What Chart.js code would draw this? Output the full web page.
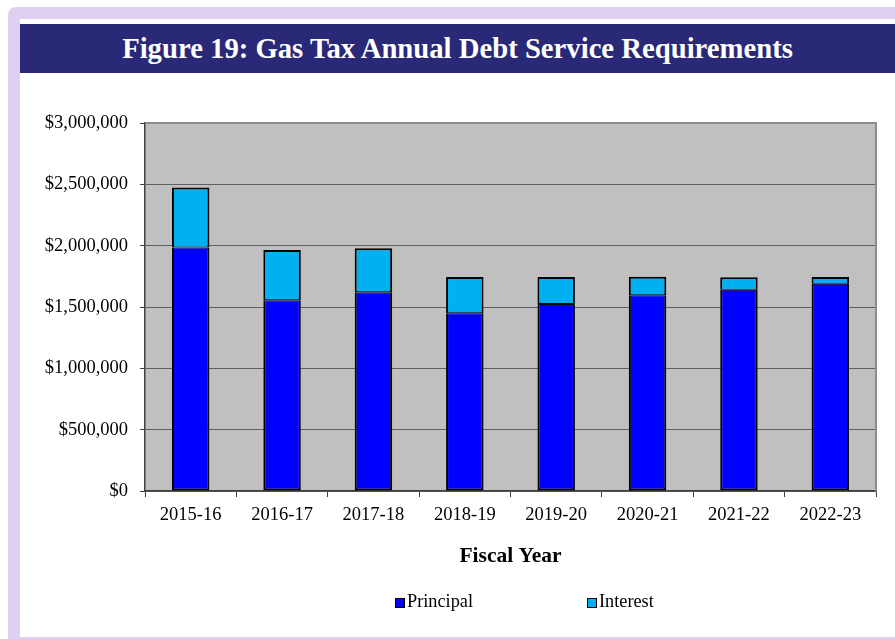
<!DOCTYPE html>
<html>
<head>
<meta charset="utf-8">
<script src="https://cdn.jsdelivr.net/npm/chart.js@4/dist/chart.umd.min.js"></script>
<style>
  html, body { margin: 0; padding: 0; background: #fff; }
  body { width: 895px; height: 639px; position: relative; overflow: hidden; font-family: 'Liberation Serif', 'Times New Roman', serif; }
  .frame { position: absolute; left: 8px; top: 7px; width: 920px; height: 660px; background: #ddd0f0; border-radius: 8px; }
  .panel { position: absolute; left: 20px; top: 19px; width: 900px; height: 618px; background: #fff; }
  .titlebar { position: absolute; left: 20px; top: 24px; width: 875px; height: 49px; background: #292977;
              color: #fff; font-weight: bold; font-size: 28.7px; line-height: 49px; text-align: center; }
  .chart-box { position: absolute; left: 20px; top: 73px; width: 875px; height: 564px; }
  .legend { position: absolute; top: 591px; left: 0; height: 20px; font-family: 'Liberation Serif', serif; font-size: 18.3px; line-height: 20px; color: #000; }
  .legend-item { position: absolute; top: 0; white-space: nowrap; }
  .legend-item .swatch { display: inline-block; width: 8px; height: 8px; border: 1.5px solid #000; margin-right: 2px; vertical-align: -1px; }
</style>
</head>
<body>
<div class="frame"></div>
<div class="panel"></div>
<div class="titlebar">Figure 19: Gas Tax Annual Debt Service Requirements</div>
<div class="chart-box"><canvas id="debt-chart" width="875" height="564"></canvas></div>
<div class="legend" id="legend"></div>

<script>
// Fiscal years and debt service amounts (dollars)
const fiscalYears = ['2015-16', '2016-17', '2017-18', '2018-19', '2019-20', '2020-21', '2021-22', '2022-23'];
const principal = [1985000, 1555000, 1620000, 1450000, 1525000, 1595000, 1640000, 1690000];
const interest = [490000, 410000, 358000, 295000, 220000, 152000, 102000, 55000];
const yTicks = [0, 500000, 1000000, 1500000, 2000000, 2500000, 3000000];

const COLORS = { principal: '#0000ff', interest: '#00b0f0' };
const SERIF = "'Liberation Serif', 'Times New Roman', serif";

// Grey plot background plus the light frame on top/right
const plotFrame = {
  id: 'plotFrame',
  beforeDraw(chart) {
    const { ctx, chartArea: a } = chart;
    ctx.save();
    ctx.fillStyle = '#c0c0c0';
    ctx.fillRect(a.left, a.top, a.right - a.left, a.bottom - a.top);
    ctx.restore();
  },
  afterDraw(chart) {
    const { ctx, chartArea: a } = chart;
    ctx.save();
    ctx.strokeStyle = '#8c8c8c';
    ctx.lineWidth = 2;
    ctx.beginPath();
    ctx.moveTo(a.left, a.top);
    ctx.lineTo(a.right, a.top);
    ctx.lineTo(a.right, a.bottom);
    ctx.stroke();
    ctx.restore();
  },
};

const chart = new Chart(document.getElementById('debt-chart'), {
  type: 'bar',
  data: {
    labels: fiscalYears,
    datasets: [
      {
        label: 'Principal', data: principal, backgroundColor: COLORS.principal,
        borderColor: '#000', borderWidth: { top: 1, left: 2, right: 2, bottom: 2 }, borderSkipped: false,
      },
      {
        label: 'Interest', data: interest, backgroundColor: COLORS.interest,
        borderColor: '#000', borderWidth: { top: 2, left: 2, right: 2, bottom: 1 }, borderSkipped: false,
      },
    ],
  },
  options: {
    responsive: false,
    animation: false,
    events: [],
    layout: { padding: { top: 50, right: 19, left: 0, bottom: 0 } },
    datasets: { bar: { categoryPercentage: 1, barPercentage: 0.41 } },
    plugins: { legend: { display: false }, tooltip: { enabled: false } },
    scales: {
      x: {
        stacked: true,
        afterFit: (s) => { s.height = 146; },
        grid: { offset: true, drawOnChartArea: false, tickLength: 6, tickColor: '#404040', tickWidth: 1 },
        border: { color: '#404040', width: 1.5 },
        ticks: { color: '#000', padding: 7, font: { family: SERIF, size: 18.5 } },
        title: {
          display: true, text: 'Fiscal Year', color: '#000',
          font: { family: SERIF, size: 21.5, weight: 'bold' },
          padding: { top: 0, bottom: 68 },
        },
      },
      y: {
        stacked: true,
        min: 0,
        max: 3000000,
        afterFit: (s) => { s.width = 125; },
        afterBuildTicks: (s) => { s.ticks = yTicks.map(v => ({ value: v })); },
        grid: { color: '#606060', lineWidth: 1, tickLength: 5, tickColor: '#404040' },
        border: { color: '#404040', width: 1.5 },
        ticks: {
          color: '#000', padding: 12, font: { family: SERIF, size: 18.5 },
          callback: (v) => '$' + Number(v).toLocaleString('en-US'),
        },
      },
    },
  },
  plugins: [plotFrame],
});

// Legend below the axis title
const legendPositions = [395, 587];
const legendEl = document.getElementById('legend');
chart.data.datasets.forEach((ds, i) => {
  const item = document.createElement('div');
  item.className = 'legend-item';
  item.style.left = legendPositions[i] + 'px';
  item.innerHTML = `<span class="swatch" style="background:${ds.backgroundColor}"></span>${ds.label}`;
  legendEl.appendChild(item);
});
</script>
</body>
</html>
